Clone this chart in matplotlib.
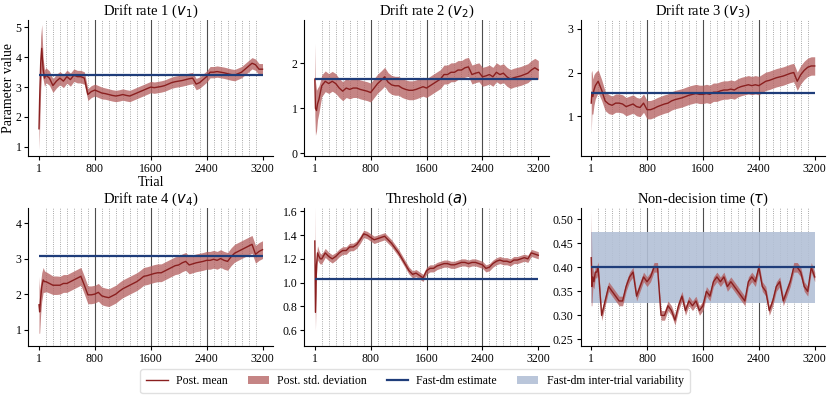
import numpy as np
import matplotlib
matplotlib.use("Agg")
import matplotlib.pyplot as plt
from matplotlib.lines import Line2D
from matplotlib.patches import Patch

plt.rcParams['font.family'] = ['Liberation Serif', 'DejaVu Serif']
plt.rcParams['mathtext.fontset'] = 'dejavusans'

# trial grid the values were read at
trials = [1, 10, 25, 40, 60, 80] + list(range(100, 3201, 50))

v1_mean = [1.6, 2.6, 3.8, 4.3, 3.6, 3.3,
           3.4, 3.3, 3.05, 3.2, 3.3, 3.2, 3.35, 3.25, 3.4, 3.35,
           3.35, 3.3, 2.75, 2.85, 2.9, 2.85, 2.8, 2.78, 2.75, 2.72,
           2.7, 2.72, 2.75, 2.72, 2.7, 2.75, 2.8, 2.85, 2.9, 2.95,
           3.0, 2.98, 3.0, 3.02, 3.05, 3.1, 3.15, 3.18, 3.2, 3.22,
           3.25, 3.28, 3.3, 3.1, 3.15, 3.25, 3.35, 3.5, 3.5, 3.52,
           3.5, 3.48, 3.45, 3.42, 3.4, 3.45, 3.5, 3.6, 3.7, 3.8,
           3.75, 3.6, 3.6]
v1_sd = [0.7, 1.0, 0.9, 0.8, 0.35, 0.28,
         0.25, 0.24, 0.23, 0.23, 0.22, 0.22, 0.22, 0.22, 0.21, 0.21,
         0.21, 0.21, 0.2, 0.2, 0.2, 0.2, 0.2, 0.19, 0.19, 0.19,
         0.19, 0.19, 0.19, 0.19, 0.19, 0.19, 0.19, 0.19, 0.19, 0.19,
         0.19, 0.19, 0.19, 0.19, 0.19, 0.19, 0.19, 0.19, 0.19, 0.19,
         0.19, 0.19, 0.19, 0.19, 0.19, 0.19, 0.19, 0.19, 0.19, 0.19,
         0.19, 0.19, 0.19, 0.19, 0.19, 0.19, 0.19, 0.19, 0.19, 0.19,
         0.19, 0.19, 0.19]

v2_mean = [1.65, 1.0, 0.95, 1.1, 1.2, 1.35,
           1.5, 1.6, 1.55, 1.6, 1.55, 1.45, 1.38, 1.45, 1.42, 1.45,
           1.45, 1.42, 1.4, 1.38, 1.35, 1.45, 1.55, 1.62, 1.7, 1.58,
           1.52, 1.5, 1.5, 1.45, 1.42, 1.4, 1.4, 1.42, 1.45, 1.48,
           1.45, 1.5, 1.55, 1.6, 1.65, 1.75, 1.75, 1.8, 1.8, 1.85,
           1.85, 1.9, 1.92, 1.75, 1.78, 1.8, 1.7, 1.72, 1.75, 1.7,
           1.8, 1.75, 1.78, 1.7, 1.65, 1.68, 1.7, 1.72, 1.75, 1.78,
           1.85, 1.9, 1.85]
v2_sd = [0.8, 0.6, 0.45, 0.35, 0.3, 0.26,
         0.24, 0.23, 0.22, 0.22, 0.22, 0.21, 0.21, 0.21, 0.21, 0.21,
         0.21, 0.21, 0.21, 0.21, 0.21, 0.21, 0.21, 0.21, 0.21, 0.21,
         0.21, 0.21, 0.21, 0.21, 0.21, 0.21, 0.21, 0.21, 0.21, 0.21,
         0.21, 0.21, 0.21, 0.21, 0.21, 0.21, 0.21, 0.21, 0.21, 0.21,
         0.21, 0.21, 0.21, 0.21, 0.21, 0.21, 0.21, 0.21, 0.21, 0.21,
         0.21, 0.21, 0.21, 0.21, 0.21, 0.21, 0.21, 0.21, 0.21, 0.21,
         0.21, 0.21, 0.21]

v3_mean = [1.3, 1.55, 1.45, 1.6, 1.7, 1.75,
           1.8, 1.6, 1.35, 1.28, 1.25, 1.3, 1.3, 1.28, 1.22, 1.25,
           1.28, 1.22, 1.2, 1.3, 1.15, 1.15, 1.18, 1.22, 1.25, 1.28,
           1.3, 1.35, 1.38, 1.4, 1.42, 1.45, 1.48, 1.5, 1.52, 1.5,
           1.5, 1.52, 1.5, 1.55, 1.55, 1.58, 1.6, 1.6, 1.62, 1.6,
           1.65, 1.68, 1.7, 1.72, 1.7, 1.72, 1.7, 1.75, 1.8, 1.82,
           1.85, 1.88, 1.9, 1.92, 1.95, 1.98, 2.0, 1.8, 1.95, 2.05,
           2.12, 2.15, 2.15]
v3_sd = [0.7, 0.5, 0.4, 0.35, 0.3, 0.28,
         0.26, 0.24, 0.22, 0.22, 0.21, 0.21, 0.21, 0.21, 0.21, 0.21,
         0.21, 0.21, 0.21, 0.21, 0.21, 0.21, 0.21, 0.21, 0.21, 0.21,
         0.21, 0.21, 0.21, 0.21, 0.21, 0.21, 0.21, 0.21, 0.21, 0.21,
         0.21, 0.21, 0.21, 0.21, 0.21, 0.21, 0.21, 0.21, 0.21, 0.21,
         0.21, 0.21, 0.21, 0.21, 0.21, 0.21, 0.21, 0.21, 0.21, 0.21,
         0.21, 0.21, 0.21, 0.21, 0.21, 0.21, 0.21, 0.21, 0.21, 0.21,
         0.21, 0.21, 0.21]

v4_mean = [1.7, 1.5, 1.9, 2.2, 2.4, 2.35,
           2.35, 2.3, 2.25, 2.25, 2.25, 2.3, 2.3, 2.35, 2.4, 2.45,
           2.5, 2.25, 1.98, 1.98, 2.0, 2.05, 1.95, 1.92, 1.9, 1.95,
           2.0, 2.08, 2.15, 2.2, 2.25, 2.3, 2.35, 2.42, 2.5, 2.52,
           2.55, 2.58, 2.6, 2.6, 2.65, 2.7, 2.75, 2.8, 2.82, 2.88,
           2.92, 2.82, 2.85, 2.88, 2.9, 2.92, 2.95, 2.95, 2.98, 2.95,
           3.0, 2.95, 2.92, 3.05, 3.15, 3.2, 3.25, 3.3, 3.35, 3.4,
           3.12, 3.2, 3.25]
v4_sd = [0.8, 0.6, 0.45, 0.4, 0.35, 0.3,
         0.28, 0.27, 0.26, 0.26, 0.25, 0.25, 0.25, 0.25, 0.25, 0.25,
         0.25, 0.25, 0.25, 0.25, 0.25, 0.25, 0.25, 0.25, 0.25, 0.25,
         0.25, 0.25, 0.25, 0.25, 0.25, 0.25, 0.25, 0.25, 0.25, 0.25,
         0.25, 0.25, 0.25, 0.25, 0.25, 0.25, 0.25, 0.25, 0.25, 0.25,
         0.25, 0.25, 0.25, 0.25, 0.25, 0.25, 0.25, 0.25, 0.25, 0.25,
         0.25, 0.25, 0.25, 0.25, 0.25, 0.25, 0.25, 0.25, 0.25, 0.25,
         0.25, 0.25, 0.25]

a_mean = [1.35, 0.75, 1.15, 1.25, 1.22, 1.2,
          1.2, 1.25, 1.22, 1.2, 1.22, 1.25, 1.27, 1.27, 1.3, 1.3,
          1.32, 1.36, 1.41, 1.4, 1.38, 1.36, 1.37, 1.38, 1.39, 1.36,
          1.33, 1.29, 1.25, 1.2, 1.15, 1.1, 1.07, 1.08, 1.06, 1.04,
          1.1, 1.12, 1.12, 1.14, 1.15, 1.16, 1.16, 1.15, 1.15, 1.16,
          1.17, 1.17, 1.16, 1.17, 1.17, 1.16, 1.15, 1.12, 1.13, 1.16,
          1.18, 1.19, 1.18, 1.18, 1.17, 1.19, 1.19, 1.2, 1.21, 1.2,
          1.25, 1.24, 1.23]
a_sd = [0.3, 0.15, 0.08, 0.06, 0.05, 0.045,
        0.04, 0.038, 0.035, 0.035, 0.033, 0.033, 0.032, 0.032, 0.032, 0.032,
        0.031, 0.031, 0.031, 0.031, 0.031, 0.031, 0.03, 0.03, 0.03, 0.03,
        0.03, 0.03, 0.03, 0.03, 0.03, 0.03, 0.03, 0.03, 0.03, 0.03,
        0.03, 0.03, 0.03, 0.03, 0.03, 0.03, 0.03, 0.03, 0.03, 0.03,
        0.03, 0.03, 0.03, 0.03, 0.03, 0.03, 0.03, 0.03, 0.03, 0.03,
        0.03, 0.03, 0.03, 0.03, 0.03, 0.03, 0.03, 0.03, 0.03, 0.03,
        0.03, 0.03, 0.03]

tau_mean = [0.42, 0.36, 0.38, 0.37, 0.39, 0.39,
            0.40, 0.30, 0.33, 0.36, 0.35, 0.34, 0.33, 0.33, 0.36, 0.38,
            0.39, 0.34, 0.36, 0.38, 0.37, 0.38, 0.40, 0.40, 0.30, 0.30,
            0.32, 0.31, 0.29, 0.32, 0.34, 0.31, 0.33, 0.32, 0.33, 0.31,
            0.32, 0.35, 0.34, 0.37, 0.38, 0.37, 0.38, 0.36, 0.37, 0.36,
            0.35, 0.34, 0.33, 0.37, 0.38, 0.37, 0.40, 0.36, 0.35, 0.31,
            0.33, 0.36, 0.37, 0.33, 0.35, 0.37, 0.40, 0.40, 0.39, 0.36,
            0.35, 0.40, 0.38]
tau_sd = [0.1, 0.04, 0.02, 0.015, 0.012, 0.012,
          0.011, 0.011, 0.01, 0.01, 0.01, 0.01, 0.01, 0.01, 0.01, 0.01,
          0.01, 0.01, 0.01, 0.01, 0.01, 0.01, 0.01, 0.01, 0.01, 0.01,
          0.01, 0.01, 0.01, 0.01, 0.01, 0.01, 0.01, 0.01, 0.01, 0.01,
          0.01, 0.01, 0.01, 0.01, 0.01, 0.01, 0.01, 0.01, 0.01, 0.01,
          0.01, 0.01, 0.01, 0.01, 0.01, 0.01, 0.01, 0.01, 0.01, 0.01,
          0.01, 0.01, 0.01, 0.01, 0.01, 0.01, 0.01, 0.01, 0.01, 0.01,
          0.01, 0.01, 0.01]

# fast-dm point estimates and inter-trial variability of tau
fastdm = [3.41, 1.66, 1.54, 3.07, 1.03, 0.40]
tau_st = 0.147

titles = ['Drift rate 1 ($v_1$)', 'Drift rate 2 ($v_2$)', 'Drift rate 3 ($v_3$)',
          'Drift rate 4 ($v_4$)', 'Threshold ($a$)', r'Non-decision time ($\tau$)']
means = [v1_mean, v2_mean, v3_mean, v4_mean, a_mean, tau_mean]
sds = [v1_sd, v2_sd, v3_sd, v4_sd, a_sd, tau_sd]
ylims = [(0.7, 5.25), (-0.05, 2.96), (0.1, 3.2), (0.55, 4.43), (0.47, 1.63), (0.237, 0.524)]
yticks = [[1, 2, 3, 4, 5], [0, 1, 2], [1, 2, 3], [1, 2, 3, 4],
          [0.6, 0.8, 1.0, 1.2, 1.4, 1.6], [0.25, 0.30, 0.35, 0.40, 0.45, 0.50]]
yfmt = ['%d', '%d', '%d', '%d', '%.1f', '%.2f']
xticks = [1, 800, 1600, 2400, 3200]

mean_col = '#8a1f1f'
band_col = '#b25c5c'
est_col = '#1f3d7a'
var_col = '#b3c0d6'

fig = plt.figure(figsize=(8.3, 4.01), dpi=100)
lefts = [0.0343, 0.3666, 0.6996]
rects = [(l, 0.612, 0.2946, 0.338) for l in lefts] + [(l, 0.138, 0.2946, 0.344) for l in lefts]

t = np.array(trials)
for i in range(6):
    ax = fig.add_axes(rects[i])
    m = np.array(means[i])
    s = np.array(sds[i])
    for x in range(100, 3200, 100):
        if x % 800 == 0:
            ax.axvline(x, color='0.3', lw=0.8, zorder=0)
        else:
            ax.axvline(x, color='0.55', lw=0.6, ls=':', zorder=0)
    if i == 5:
        ax.fill_between([1, 3200], fastdm[i] - tau_st / 2, fastdm[i] + tau_st / 2,
                        color=var_col, alpha=0.9, lw=0, zorder=1)
    ax.fill_between(t, m - s, m + s, color=band_col, alpha=0.75, lw=0, zorder=2)
    ax.plot(t, m, color=mean_col, lw=1.0, zorder=3)
    ax.hlines(fastdm[i], 1, 3200, color=est_col, lw=1.6, zorder=4)
    ax.set_xlim(-150, 3350)
    ax.set_ylim(*ylims[i])
    ax.set_xticks(xticks)
    ax.set_yticks(yticks[i])
    ax.yaxis.set_major_formatter(matplotlib.ticker.FormatStrFormatter(yfmt[i]))
    ax.tick_params(labelsize=8.5, length=3, pad=2)
    ax.spines['top'].set_visible(False)
    ax.spines['right'].set_visible(False)
    ax.set_title(titles[i], fontsize=10.5, pad=3)
    if i == 0:
        ax.set_ylabel('Parameter value', fontsize=10)
        ax.yaxis.set_label_coords(-0.057, 0.5)
        ax.set_xlabel('Trial', fontsize=10, labelpad=1)

handles = [Line2D([], [], color=mean_col, lw=1.0),
           Patch(color=band_col, alpha=0.75, lw=0),
           Line2D([], [], color=est_col, lw=1.6),
           Patch(color=var_col, alpha=0.9, lw=0)]
labels = ['Post. mean', 'Post. std. deviation', 'Fast-dm estimate', 'Fast-dm inter-trial variability']
fig.legend(handles, labels, loc='lower center', bbox_to_anchor=(0.5, 0.005), ncol=4,
           fontsize=8.5, frameon=True, edgecolor='0.85', fancybox=True,
           handlelength=1.8, handletextpad=0.7, columnspacing=1.7, borderpad=0.5)

fig.savefig('out.png', dpi=100)
